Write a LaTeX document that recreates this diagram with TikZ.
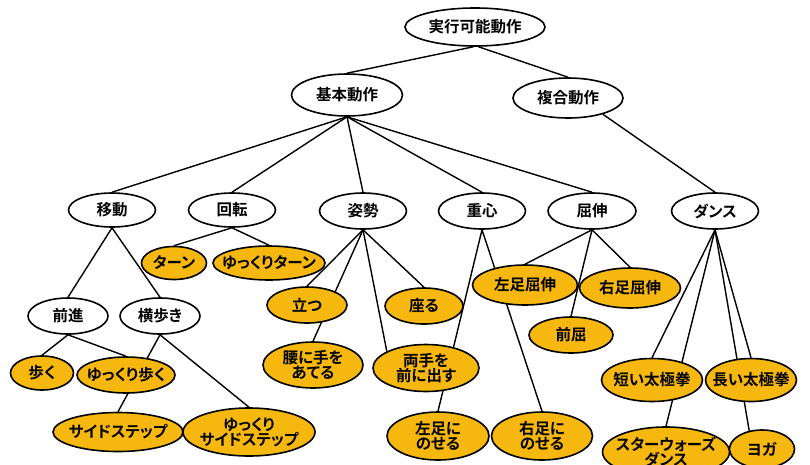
\documentclass[tikz,border=0pt]{standalone}
\usepackage{fontspec}
\setmainfont{Noto Sans CJK JP}[BoldFont={Noto Sans CJK JP Bold},RawFeature=+palt]
\usetikzlibrary{shapes.geometric,backgrounds}
\definecolor{ylw}{RGB}{246,184,14}
\tikzset{
  base/.style={ellipse, draw=black, line width=1.6pt, inner xsep=-16pt, inner ysep=-3pt, align=center,
    font=\fontsize{15.5}{17}\selectfont\bfseries},
  wnode/.style={base, fill=white},
  ynode/.style={base, fill=ylw},
  edge/.style={draw=black, line width=1.4pt}
}
\begin{document}
\begin{tikzpicture}[x=1pt,y=-1pt]
\useasboundingbox (0,0) rectangle (810,464);
% white nodes
\node[wnode, minimum width=140pt, minimum height=38pt] (top) at (475,27) {実行可能動作};
\node[wnode, minimum width=111pt, minimum height=42pt] (kihon) at (347,95) {基本動作};
\node[wnode, minimum width=110pt, minimum height=40pt] (fukugo) at (568,98) {複合動作};
\node[wnode, minimum width=87pt, minimum height=34pt] (ido) at (112,210) {移動};
\node[wnode, minimum width=87pt, minimum height=34pt] (kaiten) at (232,210) {回転};
\node[wnode, minimum width=87pt, minimum height=36pt] (shisei) at (363,211) {姿勢};
\node[wnode, minimum width=87pt, minimum height=36pt] (juushin) at (482,211) {重心};
\node[wnode, minimum width=88pt, minimum height=36pt] (kusshin) at (592,211) {屈伸};
\node[wnode, minimum width=87pt, minimum height=36pt] (dance) at (715,211) {ダンス};
\node[wnode, minimum width=80pt, minimum height=36pt] (zenshin) at (68,316) {前進};
\node[wnode, minimum width=80pt, minimum height=36pt] (yokoaruki) at (160,316) {横歩き};
% yellow nodes
\node[ynode, minimum width=65pt, minimum height=33pt] (turn) at (174,263) {ターン};
\node[ynode, minimum width=112pt, minimum height=34pt] (yturn) at (269,263) {ゆっくりターン};
\node[ynode, minimum width=80pt, minimum height=36pt] (tatsu) at (307,305) {立つ};
\node[ynode, minimum width=78pt, minimum height=36pt] (suwaru) at (424,306) {座る};
\node[ynode, minimum width=105pt, minimum height=40pt] (hidari) at (525,285) {左足屈伸};
\node[ynode, minimum width=101pt, minimum height=40pt] (migi) at (630,288) {右足屈伸};
\node[ynode, minimum width=84pt, minimum height=36pt] (zenkutsu) at (571,335) {前屈};
\node[ynode, minimum width=63pt, minimum height=34pt] (aruku) at (42,373) {歩く};
\node[ynode, minimum width=98pt, minimum height=36pt] (yaruku) at (126,375) {ゆっくり歩く};
\node[ynode, minimum width=130pt, minimum height=39pt] (side) at (118,432) {サイドステップ};
\node[ynode, minimum width=132pt, minimum height=48pt] (yside) at (249,432) {ゆっくり\\[-2pt]サイドステップ};
\node[ynode, minimum width=100pt, minimum height=46pt] (koshi) at (313,365) {腰に手を\\[-2pt]あてる};
\node[ynode, minimum width=106pt, minimum height=47pt] (ryote) at (426,368) {両手を\\[-2pt]前に出す};
\node[ynode, minimum width=102pt, minimum height=48pt] (lnose) at (438,436) {左足に\\[-2pt]のせる};
\node[ynode, minimum width=101pt, minimum height=48pt] (rnose) at (542,436) {右足に\\[-2pt]のせる};
\node[ynode, minimum width=101pt, minimum height=43pt] (mijikai) at (652,380) {短い太極拳};
\node[ynode, minimum width=91pt, minimum height=43pt] (nagai) at (751,380) {長い太極拳};
\node[ynode, minimum width=127pt, minimum height=50pt] (starwars) at (666,452) {スターウォーズ\\[-2pt]ダンス};
\node[ynode, minimum width=65pt, minimum height=38pt] (yoga) at (762,449) {ヨガ};
% edges
\begin{scope}[on background layer]
\draw[edge] (top.265) -- (kihon.north);
\draw[edge] (top.280) -- (fukugo.north);
\draw[edge] (fukugo.-25) -- (dance.north);
\foreach \c in {ido,kaiten,shisei,juushin,kusshin} \draw[edge] (kihon.south) -- (\c.north);
\draw[edge] (ido.south) -- (zenshin.north);
\draw[edge] (ido.south) -- (yokoaruki.north);
\draw[edge] (kaiten.south) -- (turn.north);
\draw[edge] (kaiten.south) -- (yturn.north);
\draw[edge] (shisei.south) -- (tatsu.north);
\draw[edge] (shisei.south) -- (koshi.north);
\draw[edge] (shisei.south) -- (ryote.157);
\draw[edge] (shisei.south) -- (suwaru.north);
\draw[edge] (juushin.south) -- (lnose.north);
\draw[edge] (juushin.south) -- (rnose.north);
\draw[edge] (kusshin.south) -- (hidari.north);
\draw[edge] (kusshin.south) -- (migi.north);
\draw[edge] (kusshin.south) -- (zenkutsu.north);
\draw[edge] (zenshin.south) -- (aruku.north);
\draw[edge] (zenshin.south) -- (yaruku.north);
\draw[edge] (yokoaruki.south) -- (side.north);
\draw[edge] (yokoaruki.south) -- (yside.north);
\draw[edge] (dance.south) -- (mijikai.north);
\draw[edge] (dance.south) -- (starwars.north);
\draw[edge] (dance.south) -- (nagai.north);
\draw[edge] (dance.south) -- (yoga.125);
\end{scope}
\end{tikzpicture}
\end{document}
